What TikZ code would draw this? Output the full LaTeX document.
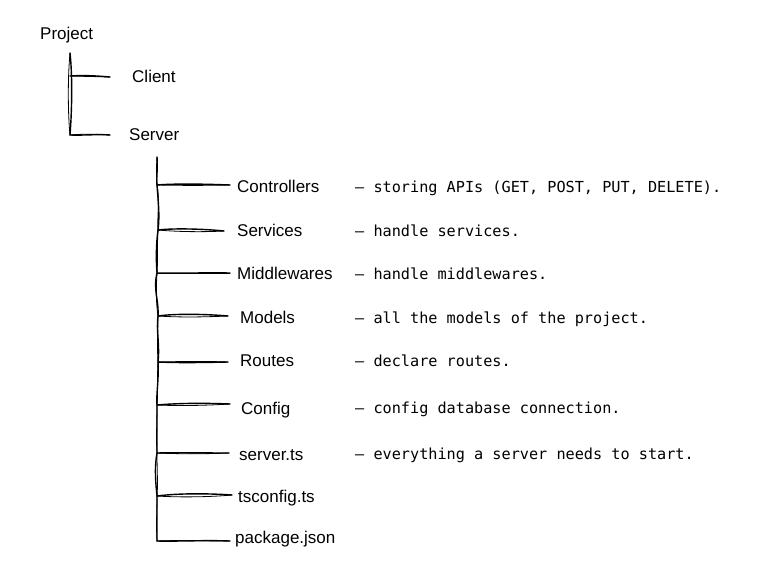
\documentclass[tikz,border=0pt]{standalone}
\usepackage{fontspec}
\setmainfont{Liberation Sans}
\newfontfamily\descfont{DejaVu Sans Mono}
\begin{document}
\begin{tikzpicture}[x=1pt,y=-1pt,
  lbl/.style={anchor=base west, inner sep=0pt, font=\fontsize{17}{20}\selectfont},
  desc/.style={anchor=base west, inner sep=0pt, font=\descfont\fontsize{15.2}{18}\selectfont},
  sk/.style={line width=1.4pt, line cap=round, line join=round},
  skthin/.style={line width=0.8pt, line cap=round, line join=round}]
\useasboundingbox (0,0) rectangle (773,576);

% ---------- level 1 ----------
\node[lbl] (project) at (40,39) {Project};
\node[lbl] (client)  at (132,82) {Client};
\node[lbl] (server)  at (129,140) {Server};

\coordinate (a0) at (70,53);
\coordinate (a1) at (70,76);
\coordinate (a2) at (70,135);
\coordinate (ce) at (110,77);
\coordinate (se) at (110,135);

\draw[sk] (a0) .. controls (72.5,75) and (72,110) .. (a2);
\draw[skthin] (a0) .. controls (67.5,80) and (68,115) .. (a2);
\draw[sk] (a1) .. controls (85,75) and (98,76) .. (ce);
\draw[skthin] (a1) -- (ce);
\draw[sk] (a2) .. controls (85,135.5) and (98,134) .. (se);
\draw[skthin] (a2) .. controls (88,133.5) and (100,134.5) .. (se);

% ---------- level 2 ----------
\node[lbl] (ctrl) at (237,192) {Controllers};
\node[lbl] (serv) at (237,236) {Services};
\node[lbl] (midw) at (237,279) {Middlewares};
\node[lbl] (modl) at (240,323) {Models};
\node[lbl] (rout) at (240,366) {Routes};
\node[lbl] (conf) at (241,414) {Config};
\node[lbl] (srvt) at (239,460) {server.ts};
\node[lbl] (tsco) at (238,502) {tsconfig.ts};
\node[lbl] (pack) at (235,543) {package.json};

\node[desc] (dctrl) at (355,192) {— storing APIs (GET, POST, PUT, DELETE).};
\node[desc] (dserv) at (355,236) {— handle services.};
\node[desc] (dmidw) at (355,279) {— handle middlewares.};
\node[desc] (dmodl) at (355,323) {— all the models of the project.};
\node[desc] (drout) at (355,366) {— declare routes.};
\node[desc] (dconf) at (355,413) {— config database connection.};
\node[desc] (dsrvt) at (355,459) {— everything a server needs to start.};

% trunk points
\coordinate (b0) at (157,157);
\coordinate (b1) at (157,185);
\coordinate (b2) at (158,230);
\coordinate (b3) at (157,273);
\coordinate (b4) at (158,316);
\coordinate (b5) at (158,362);
\coordinate (b6) at (157,405);
\coordinate (b7) at (157,453);
\coordinate (b8) at (157,496);
\coordinate (b9) at (157,541);
% branch ends
\coordinate (e1) at (230,185);
\coordinate (e2) at (224,231);
\coordinate (e3) at (230,273);
\coordinate (e4) at (228,316);
\coordinate (e5) at (228,362);
\coordinate (e6) at (230,404);
\coordinate (e7) at (229,453);
\coordinate (e8) at (232,495);
\coordinate (e9) at (230,541);

% trunk (double sketch stroke)
\draw[sk] (b0) .. controls (158,170) and (156,178) .. (b1)
  .. controls (158,200) and (160,215) .. (b2)
  .. controls (156,245) and (156,260) .. (b3)
  .. controls (153,290) and (159,300) .. (b4)
  .. controls (156,330) and (160,345) .. (b5)
  .. controls (159,380) and (156,395) .. (b6)
  .. controls (157,420) and (157,440) .. (b7)
  .. controls (154,470) and (156,485) .. (b8)
  .. controls (157,510) and (157,525) .. (b9);
\draw[skthin] (b0) .. controls (156,170) and (157,178) .. (b1)
  .. controls (160,200) and (157,218) .. (b2)
  .. controls (157,245) and (158,260) .. (b3)
  .. controls (156,290) and (156,302) .. (b4)
  .. controls (158,330) and (157,348) .. (b5)
  .. controls (157,380) and (158,395) .. (b6)
  .. controls (157,420) and (156,440) .. (b7)
  .. controls (157,470) and (158,485) .. (b8)
  .. controls (157,510) and (156,525) .. (b9);

% branches
\draw[sk] (b1) .. controls (175,183.5) and (205,184) .. (e1);
\draw[skthin] (b1) .. controls (180,185.5) and (205,185.5) .. (e1);
\draw[sk] (b2) .. controls (175,228) and (205,229) .. (e2);
\draw[skthin] (b2) .. controls (180,232) and (205,232) .. (e2);
\draw[sk] (b3) .. controls (180,273.5) and (205,272.5) .. (e3);
\draw[skthin] (b3) -- (e3);
\draw[sk] (b4) .. controls (175,313.5) and (205,314) .. (e4);
\draw[skthin] (b4) .. controls (180,317.5) and (205,317) .. (e4);
\draw[sk] (b5) .. controls (180,363) and (205,362.5) .. (e5);
\draw[skthin] (b5) .. controls (180,361.5) and (205,361) .. (e5);
\draw[sk] (b6) .. controls (180,403) and (205,403) .. (e6);
\draw[skthin] (b6) .. controls (180,406) and (205,405.5) .. (e6);
\draw[sk] (b7) .. controls (180,452.5) and (205,453) .. (e7);
\draw[skthin] (b7) .. controls (180,454) and (205,454) .. (e7);
\draw[sk] (b8) .. controls (180,493) and (210,493.5) .. (e8);
\draw[skthin] (b8) .. controls (180,497.5) and (210,497) .. (e8);
\draw[sk] (b9) .. controls (180,541.5) and (205,540) .. (e9);
\draw[skthin] (b9) .. controls (180,540) and (205,541) .. (e9);
\end{tikzpicture}
\end{document}
